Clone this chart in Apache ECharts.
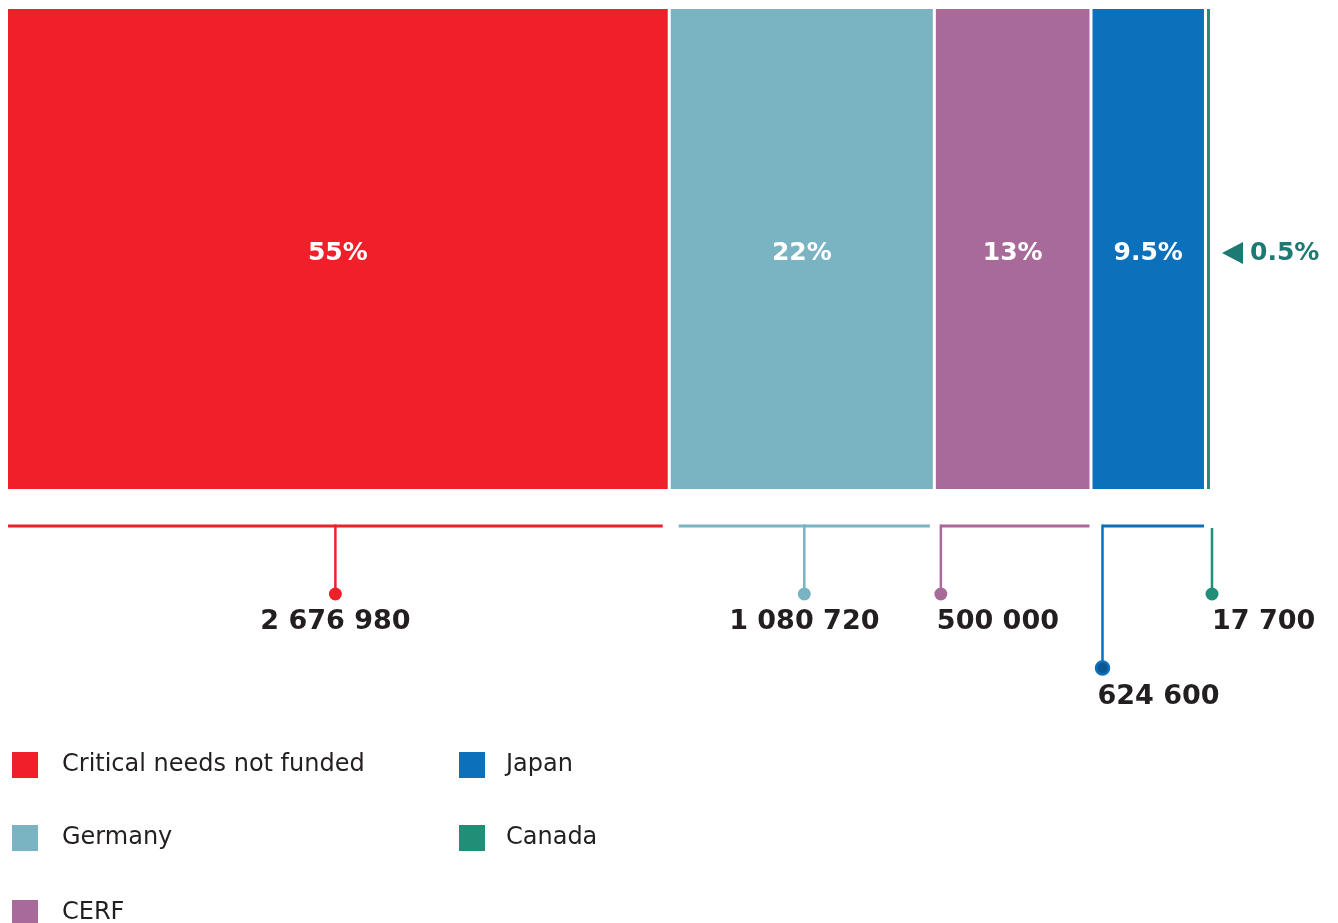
<!DOCTYPE html>
<html>
<head>
<meta charset="utf-8">
<script src="https://cdn.jsdelivr.net/npm/echarts@6/dist/echarts.min.js"></script>
<style>
html,body{margin:0;padding:0;background:#fff;}
#chart{width:1338px;height:923px;}
</style>
</head>
<body>
<div id="chart"></div>
<script>
// ---- data ----
const categories = ['Critical needs not funded', 'Germany', 'CERF', 'Japan', 'Canada'];
const shares = [55, 22, 13, 9.5, 0.5];                      // percent of total (bar widths)
const amounts = [2676980, 1080720, 500000, 624600, 17700]; // value labels
const colors = ['#EF2029', '#7AB3C1', '#A86B99', '#0C71BA', '#218E78'];

function fmt(n) {
  return String(n).replace(/\B(?=(\d{3})+(?!\d))/g, ' ');
}

// cumulative spans [start, end, index]
const spans = [];
let acc = 0;
shares.forEach((s, i) => { spans.push([acc, acc + s, i]); acc += s; });

const FONT = 'DejaVu Sans';
const TXT = '#231F20';
const PCT_COLOR = '#1C7A72';

// style constants (pixel insets, anchors)
const insets = [[1.5, 6.5], [9.5, 4.5], [6.5, 1.5], [11.5, 1.5], null];
const anchors = ['center', 'center', 'left', 'left', 'right'];
const lineY = 526;

const segmentSeries = categories.map((name, i) => ({
  name: name,
  type: 'custom',
  xAxisIndex: 0,
  yAxisIndex: 0,
  clip: false,
  silent: true,
  itemStyle: { color: colors[i] },
  data: [spans[i]],
  encode: { x: [0, 1] },
  renderItem: function (params, api) {
    const x0 = api.coord([api.value(0), 0])[0];
    const x1 = api.coord([api.value(1), 0])[0];
    const yb = api.coord([0, 0])[1];
    const yt = api.coord([0, 1])[1];
    const children = [{
      type: 'rect',
      shape: { x: x0 + 1.5, y: yt, width: Math.max(x1 - x0 - 3, 0), height: yb - yt },
      style: { fill: colors[i] }
    }];
    const label = shares[i] + '%';
    const cy = (yt + yb) / 2 + 4;
    if (i < 4) {
      children.push({
        type: 'text',
        style: { x: (x0 + x1) / 2, y: cy, text: label, align: 'center', verticalAlign: 'middle',
          fill: '#ffffff', fontSize: 25, fontWeight: 'bold', fontFamily: FONT }
      });
    } else {
      const tx = x1 + 10.5;
      children.push({
        type: 'polygon',
        shape: { points: [[tx + 21, cy - 11], [tx + 21, cy + 11], [tx, cy]] },
        style: { fill: PCT_COLOR }
      });
      children.push({
        type: 'text',
        style: { x: tx + 28, y: cy, text: label, align: 'left', verticalAlign: 'middle',
          fill: PCT_COLOR, fontSize: 25, fontWeight: 'bold', fontFamily: FONT }
      });
    }
    return { type: 'group', children: children };
  }
}));

const bracketSeries = {
  name: 'brackets',
  type: 'custom',
  xAxisIndex: 0,
  yAxisIndex: 0,
  clip: false,
  silent: true,
  data: spans,
  encode: { x: [0, 1] },
  renderItem: function (params, api) {
    const i = api.value(2);
    const x0 = api.coord([api.value(0), 0])[0];
    const x1 = api.coord([api.value(1), 0])[0];
    const c = colors[i];
    const children = [];
    let stemX, ls, le;
    if (insets[i]) {
      ls = x0 + insets[i][0];
      le = x1 - insets[i][1];
      children.push({ type: 'line', shape: { x1: ls, y1: lineY, x2: le, y2: lineY }, style: { stroke: c, lineWidth: 3 } });
    }
    if (anchors[i] === 'center') stemX = (ls + le) / 2;
    else if (anchors[i] === 'left') stemX = ls;
    else stemX = x1 + 0.5;
    const dotY = i === 3 ? 668 : 594;
    const stemTop = insets[i] ? lineY - 1.5 : lineY + 2;
    children.push({ type: 'line', shape: { x1: stemX, y1: stemTop, x2: stemX, y2: dotY }, style: { stroke: c, lineWidth: 2.5 } });
    if (i === 3) {
      children.push({ type: 'circle', shape: { cx: stemX, cy: dotY, r: 6.5 }, style: { fill: '#0A5796', stroke: c, lineWidth: 2.5 } });
    } else {
      children.push({ type: 'circle', shape: { cx: stemX, cy: dotY, r: 6.5 }, style: { fill: c } });
    }
    let tx, align;
    if (anchors[i] === 'center') { tx = stemX; align = 'center'; }
    else if (anchors[i] === 'left') { tx = stemX - (i === 3 ? 5 : 4); align = 'left'; }
    else { tx = stemX; align = 'left'; }
    children.push({
      type: 'text',
      style: {
        x: tx, y: dotY + (i === 3 ? 29 : 28),
        text: fmt(amounts[i]),
        align: align, verticalAlign: 'middle',
        fill: TXT, fontSize: 27, fontWeight: 'bold', fontFamily: FONT
      }
    });
    return { type: 'group', children: children };
  }
};

const legendPos = [[12, 752], [12, 825], [12, 900], [459, 752], [459, 825]];
const legends = categories.map((name, i) => ({
  data: [name],
  left: legendPos[i][0],
  top: legendPos[i][1],
  padding: 0,
  icon: 'rect',
  itemWidth: 26,
  itemHeight: 26,
  selectedMode: false,
  itemStyle: { borderWidth: 0 },
  textStyle: { fontSize: 24, color: TXT, fontFamily: FONT, padding: [0, 0, 0, i < 3 ? 19 : 16] }
}));

const option = {
  animation: false,
  backgroundColor: '#ffffff',
  grid: { left: 6.5, top: 9, width: 1205, height: 480 },
  xAxis: { type: 'value', min: 0, max: 100, show: false },
  yAxis: { type: 'value', min: 0, max: 1, show: false },
  legend: legends,
  series: segmentSeries.concat([bracketSeries])
};

const chart = echarts.init(document.getElementById('chart'), null, { renderer: 'canvas' });
chart.setOption(option);
</script>
</body>
</html>
